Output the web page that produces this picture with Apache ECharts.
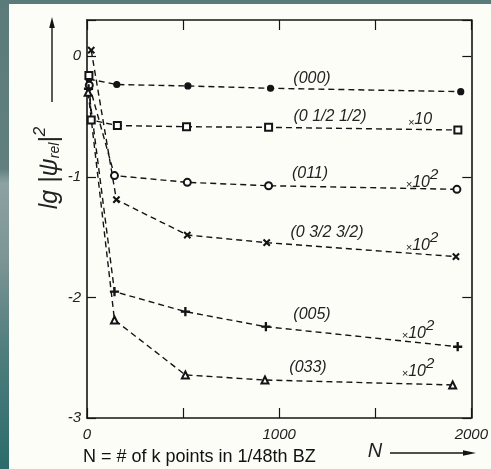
<!DOCTYPE html>
<html>
<head>
<meta charset="utf-8">
<script src="https://cdn.jsdelivr.net/npm/echarts@6/dist/echarts.min.js"></script>
<style>
html,body{margin:0;padding:0;}
#wrap{position:relative;width:491px;height:469px;overflow:hidden;
 background:linear-gradient(180deg,#5b7a7a 0%,#617f7f 36%,#8da2a2 39%,#7d9595 55%,#4f7d7d 75%,#2c6b6b 100%);}
#panel{position:absolute;left:9px;top:4px;right:0;bottom:0;background:#fdfdf8;}
#chart{position:absolute;left:0;top:0;width:491px;height:469px;}
</style>
</head>
<body>
<div id="wrap"><div id="panel"></div><div id="chart"></div></div>
<script>
// ---- data ----
const xTickLabels = ['0', '1000', '2000'];
const yTickLabels = ['0', '-1', '-2', '-3'];
const seriesNames = ['(000)', '(0 1/2 1/2)', '(011)', '(0 3/2 3/2)', '(005)', '(033)'];
const scaleNotes = ['', '×10', '×10', '×10', '×10', '×10'];
const scalePowers = ['', '', '2', '2', '2', '2'];

const n000 = [10, 155, 525, 955, 1945];
const v000 = [-0.19, -0.235, -0.247, -0.266, -0.294];

const nHalf = [10, 22, 158, 518, 945, 1930];
const vHalf = [-0.16, -0.53, -0.575, -0.585, -0.59, -0.612];

const n011 = [12, 143, 522, 945, 1925];
const v011 = [-0.24, -0.99, -1.046, -1.074, -1.104];

const n0332 = [22, 153, 522, 935, 1920];
const v0332 = [0.05, -1.19, -1.483, -1.546, -1.662];

const n005 = [8, 143, 512, 931, 1929];
const v005 = [-0.27, -1.952, -2.118, -2.243, -2.409];

const n033 = [6, 143, 512, 926, 1903];
const v033 = [-0.3, -2.187, -2.643, -2.685, -2.726];

// ---- chart ----
const pairs = (ns, vs) => ns.map((n, i) => [n, vs[i]]);
const INK = '#141414';
const FONT = '"Liberation Sans", Arial, sans-serif';
const crossPath = 'path://M0,1 L1,0 L5,4 L9,0 L10,1 L6,5 L10,9 L9,10 L5,6 L1,10 L0,9 L4,5 Z';
const plusPath = 'path://M4.3,0 H5.7 V4.3 H10 V5.7 H5.7 V10 H4.3 V5.7 H0 V4.3 H4.3 Z';

function mkSeries(name, data, symbol, size) {
  return {
    name, type: 'line', data, symbol, symbolSize: size,
    showAllSymbol: true,
    lineStyle: { color: INK, width: 1.4, type: [6, 4] },
    itemStyle: { color: INK, borderColor: INK, borderWidth: 1.2 },
    z: 3, animation: false
  };
}

const xAxisBase = {
  type: 'value', min: 0, max: 2000, interval: 500,
  splitLine: { show: false },
  axisLine: { show: true, onZero: false, lineStyle: { color: INK, width: 1.6 } },
  axisTick: { show: true, inside: true, length: 10, lineStyle: { color: INK, width: 1.2 } }
};
const yAxisBase = {
  type: 'value', min: -3, max: 0.3, interval: 1,
  splitLine: { show: false },
  axisLine: { show: true, onZero: false, lineStyle: { color: INK, width: 1.6 } },
  axisTick: { show: true, inside: true, length: 9, lineStyle: { color: INK, width: 1.2 } }
};
const labelStyle = { color: '#222', fontStyle: 'italic', fontSize: 15, fontFamily: FONT };

const chart = echarts.init(document.getElementById('chart'), null, { renderer: 'canvas' });

const labelPos = [[312, 79], [330, 117], [310, 174], [327, 233], [312, 315], [308, 368]];
const notePos = [null, [420, 120], [422, 179], [422, 242], [418, 330], [418, 368]];

const graphics = [];
seriesNames.forEach((s, i) => {
  graphics.push({
    type: 'text', x: labelPos[i][0], y: labelPos[i][1], z: 10,
    style: { text: s, font: 'italic 16px ' + FONT, fill: '#222', align: 'center', verticalAlign: 'middle' }
  });
  if (notePos[i]) {
    const p = scalePowers[i];
    graphics.push({
      type: 'text', x: notePos[i][0], y: notePos[i][1], z: 10,
      style: {
        text: '{m|' + scaleNotes[i].slice(0, 1) + '}{a|' + scaleNotes[i].slice(1) + '}' + (p ? '{p|' + p + '}' : ''),
        align: 'center', verticalAlign: 'middle', fill: '#222',
        rich: {
          m: { font: 'italic 11px ' + FONT, fill: '#222', verticalAlign: 'bottom' },
          a: { font: 'italic 16px ' + FONT, fill: '#222', verticalAlign: 'bottom' },
          p: { font: 'italic 15px ' + FONT, fill: '#222', verticalAlign: 'top', padding: [0, 0, 8, 0] }
        }
      }
    });
  }
});

// y-axis title (rotated) with arrow
graphics.push({
  type: 'text', x: 47, y: 168, rotation: Math.PI / 2, z: 10,
  style: {
    text: '{a|lg |ψ}{s|rel}{a||}{p|2}', align: 'center', verticalAlign: 'middle', fill: '#222',
    rich: {
      a: { font: 'italic 25px ' + FONT, fill: '#222', verticalAlign: 'bottom' },
      s: { font: 'italic 14px ' + FONT, fill: '#222', verticalAlign: 'bottom' },
      p: { font: 'italic 17px ' + FONT, fill: '#222', verticalAlign: 'top', padding: [0, 0, 14, 0] }
    }
  }
});
graphics.push({ type: 'line', z: 10, shape: { x1: 52, y1: 102, x2: 52, y2: 26 }, style: { stroke: INK, lineWidth: 1.4 } });
graphics.push({ type: 'polygon', z: 10, shape: { points: [[52, 17], [49.2, 28], [54.8, 28]] }, style: { fill: INK } });

// x-axis title N with arrow
graphics.push({
  type: 'text', x: 375, y: 451, z: 10,
  style: { text: 'N', font: 'italic 20px ' + FONT, fill: '#222', align: 'center', verticalAlign: 'middle' }
});
graphics.push({ type: 'line', z: 10, shape: { x1: 390, y1: 453, x2: 466, y2: 453 }, style: { stroke: INK, lineWidth: 1.6 } });
graphics.push({ type: 'polygon', z: 10, shape: { points: [[476, 453], [463, 450.3], [463, 455.7]] }, style: { fill: INK } });

// caption
graphics.push({
  type: 'text', x: 83, y: 457, z: 10,
  style: { text: 'N = # of k points in 1/48th BZ', font: '18px ' + FONT, fill: '#111', align: 'left', verticalAlign: 'middle' }
});

chart.setOption({
  animation: false,
  backgroundColor: 'transparent',
  grid: { left: 87, top: 20, right: 13, bottom: 51, containLabel: false },
  xAxis: [
    Object.assign({}, xAxisBase, {
      position: 'bottom',
      axisLabel: Object.assign({}, labelStyle, {
        margin: 9,
        formatter: v => { const k = [0, 1000, 2000].indexOf(v); return k >= 0 ? xTickLabels[k] : ''; }
      })
    }),
    Object.assign({}, xAxisBase, { position: 'top', axisLabel: { show: false } })
  ],
  yAxis: [
    Object.assign({}, yAxisBase, {
      position: 'left',
      axisLabel: Object.assign({}, labelStyle, {
        margin: 6,
        formatter: v => { const k = [0, -1, -2, -3].indexOf(Math.round(v * 1000) / 1000); return k >= 0 ? yTickLabels[k] : ''; }
      })
    }),
    Object.assign({}, yAxisBase, { position: 'right', axisLabel: { show: false } })
  ],
  series: [
    mkSeries(seriesNames[0], pairs(n000, v000), 'circle', 6),
    mkSeries(seriesNames[1], pairs(nHalf, vHalf), 'emptyRect', 7),
    mkSeries(seriesNames[2], pairs(n011, v011), 'emptyCircle', 7),
    mkSeries(seriesNames[3], pairs(n0332, v0332), crossPath, 6),
    mkSeries(seriesNames[4], pairs(n005, v005), plusPath, 8),
    mkSeries(seriesNames[5], pairs(n033, v033), 'emptyTriangle', 7)
  ],
  graphic: graphics
});
</script>
</body>
</html>
